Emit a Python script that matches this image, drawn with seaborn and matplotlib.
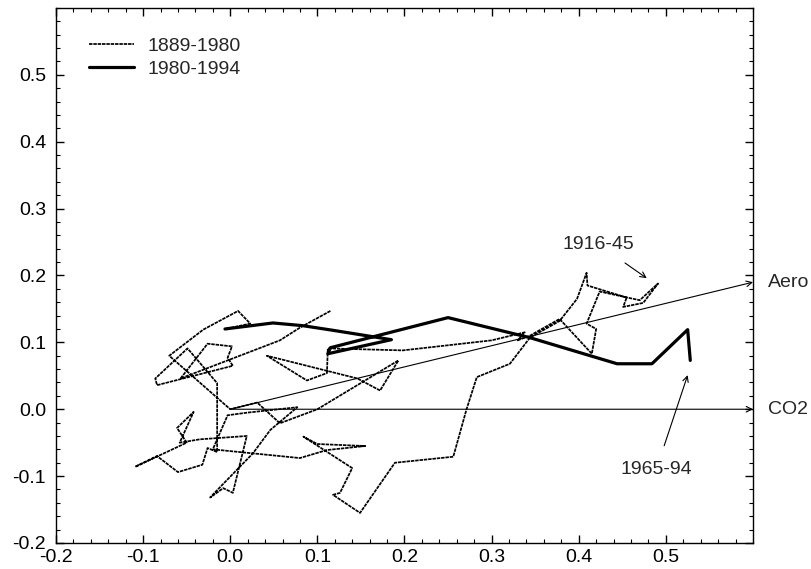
import numpy as np
import pandas as pd
import matplotlib
matplotlib.use("Agg")
import matplotlib.pyplot as plt
import seaborn as sns
from matplotlib.ticker import MultipleLocator

# ---- data ----
thin_x = [0.115, 0.080, 0.057, -0.057, -0.026, 0.002, -0.003, 0.003, -0.084, -0.086,
          -0.049, -0.015, -0.015, -0.026, -0.032, -0.060, -0.084, -0.109, -0.050, -0.061,
          -0.042, -0.058, -0.035, 0.019, 0.003, -0.008, -0.023, -0.018, 0.026, 0.046,
          0.077, 0.020, -0.003, -0.020, 0.080, 0.111, 0.155, 0.100, 0.084, 0.140,
          0.126, 0.118, 0.149, 0.189, 0.256, 0.271, 0.283, 0.321, 0.344, 0.378,
          0.398, 0.409, 0.410, 0.455, 0.451, 0.474, 0.491, 0.470, 0.424, 0.409,
          0.420, 0.415, 0.378, 0.344, 0.330, 0.338, 0.300, 0.198, 0.112, 0.111,
          0.088, 0.057, 0.042, 0.146, 0.172, 0.193, 0.100, 0.057, 0.031, 0.000,
          -0.070, -0.031, 0.009, 0.023, -0.006]
thin_y = [0.147, 0.122, 0.103, 0.046, 0.098, 0.094, 0.077, 0.065, 0.036, 0.046,
          0.091, 0.039, -0.064, -0.058, -0.083, -0.094, -0.070, -0.086, -0.050, -0.028,
          -0.004, -0.050, -0.045, -0.040, -0.125, -0.118, -0.132, -0.125, -0.066, -0.031,
          0.003, -0.005, -0.009, -0.060, -0.073, -0.061, -0.055, -0.052, -0.041, -0.088,
          -0.125, -0.128, -0.155, -0.080, -0.071, -0.001, 0.048, 0.068, 0.107, 0.132,
          0.165, 0.204, 0.185, 0.167, 0.153, 0.159, 0.188, 0.163, 0.176, 0.128,
          0.120, 0.083, 0.135, 0.110, 0.103, 0.115, 0.103, 0.088, 0.091, 0.054,
          0.043, 0.068, 0.080, 0.046, 0.028, 0.073, 0.000, -0.021, 0.010, 0.000,
          0.080, 0.119, 0.147, 0.128, 0.120]

thick_x = [-0.006, 0.049, 0.083, 0.118, 0.185, 0.112, 0.115, 0.250, 0.344, 0.444,
           0.484, 0.525, 0.528]
thick_y = [0.120, 0.129, 0.125, 0.118, 0.104, 0.083, 0.092, 0.137, 0.107, 0.068,
           0.068, 0.119, 0.073]

series_labels = ["1889-1980", "1980-1994"]
vector_names = ["Aero", "CO2"]
vector_x = [0.6, 0.6]
vector_y = [0.19, 0.0]
period_labels = ["1916-45", "1965-94"]

xticks = [-0.2, -0.1, 0.0, 0.1, 0.2, 0.3, 0.4, 0.5]
yticks = [-0.2, -0.1, 0.0, 0.1, 0.2, 0.3, 0.4, 0.5]
tick_labels = ["-0.2", "-0.1", "0.0", "0.1", "0.2", "0.3", "0.4", "0.5"]

# ---- plot ----
sns.set_theme(style="ticks")
plt.rcParams["font.family"] = ["Liberation Sans", "DejaVu Sans"]
FS = 14

fig = plt.figure(figsize=(8.11, 5.69), dpi=100)
ax = fig.add_axes([0.069, 0.0457, 0.8595, 0.9403])

df_thin = pd.DataFrame({"x": thin_x, "y": thin_y})
df_thick = pd.DataFrame({"x": thick_x, "y": thick_y})

sns.lineplot(data=df_thin, x="x", y="y", sort=False, estimator=None, ax=ax,
             color="black", lw=1.25, linestyle=(0, (2.0, 0.5)), label=series_labels[0])
sns.lineplot(data=df_thick, x="x", y="y", sort=False, estimator=None, ax=ax,
             color="black", lw=2.3, label=series_labels[1])

for name, vx, vy in zip(vector_names, vector_x, vector_y):
    ax.annotate("", xy=(vx, vy), xytext=(0, 0), annotation_clip=False,
                arrowprops=dict(arrowstyle="->", lw=0.8, color="black",
                                shrinkA=0, shrinkB=0, mutation_scale=10))
    ax.text(vx + 0.017, vy, name, ha="left", va="center", fontsize=FS, clip_on=False)

ax.annotate(period_labels[0], xy=(0.478, 0.196), xytext=(0.422, 0.247),
            ha="center", va="center", fontsize=FS,
            arrowprops=dict(arrowstyle="->", lw=0.8, color="black", shrinkA=9, shrinkB=0,
                            mutation_scale=10))
ax.annotate(period_labels[1], xy=(0.525, 0.051), xytext=(0.489, -0.090),
            ha="center", va="center", fontsize=FS,
            arrowprops=dict(arrowstyle="->", lw=0.8, color="black", shrinkA=9, shrinkB=0,
                            mutation_scale=10))

ax.set_xlim(-0.2, 0.6)
ax.set_ylim(-0.2, 0.6)
ax.set_xticks(xticks)
ax.set_xticklabels(tick_labels)
ax.set_yticks(yticks)
ax.set_yticklabels(tick_labels)
ax.xaxis.set_minor_locator(MultipleLocator(0.02))
ax.yaxis.set_minor_locator(MultipleLocator(0.02))
ax.tick_params(which="both", direction="in", top=True, right=True, colors="black",
               labelsize=FS)
ax.tick_params(which="major", length=6, width=1)
ax.tick_params(which="minor", length=3, width=0.8)
ax.tick_params(axis="y", which="major", pad=7)
ax.tick_params(axis="x", which="major", pad=4)
for s in ax.spines.values():
    s.set_color("black")
    s.set_linewidth(1.0)
ax.set_xlabel("")
ax.set_ylabel("")

leg = ax.legend(loc="upper left", bbox_to_anchor=(0.022, 0.978), frameon=False,
                fontsize=FS, handlelength=2.3, handletextpad=0.7, labelspacing=0.3)

fig.savefig("out.png", dpi=100)
